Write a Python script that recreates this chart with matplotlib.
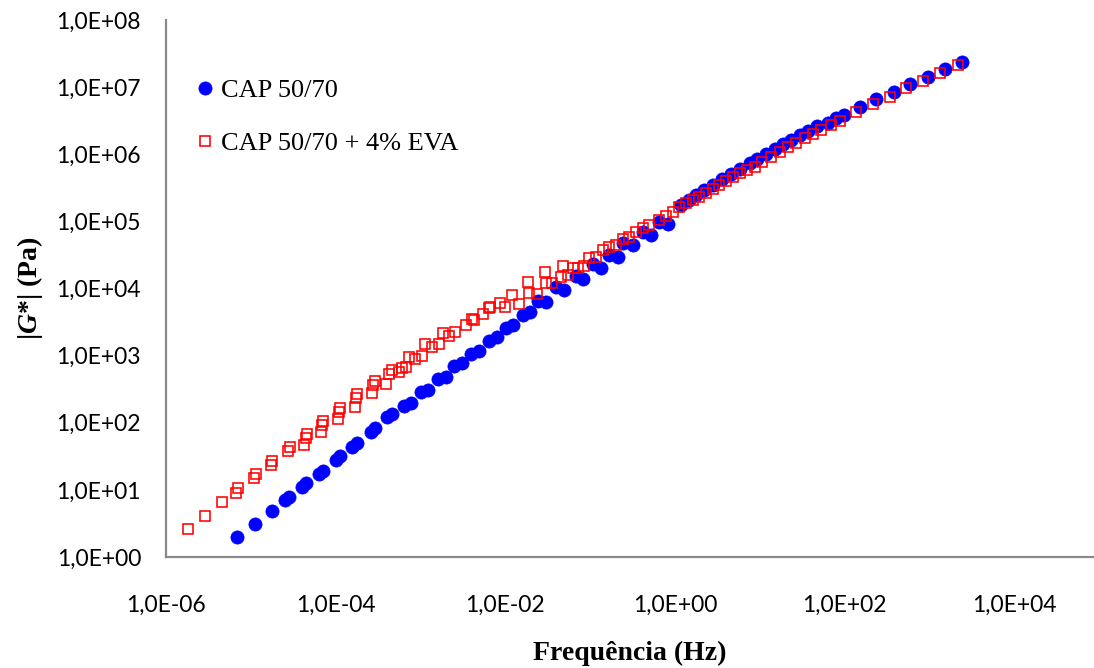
import numpy as np
import matplotlib
matplotlib.use("Agg")
import matplotlib.pyplot as plt
from matplotlib.ticker import FixedLocator, FuncFormatter, NullLocator
from matplotlib.lines import Line2D

# |G*| master curves, stored as log10(frequency [Hz]) and log10(|G*| [Pa])
cap_log_freq = [
    -5.159, -4.953, -4.755, -4.599, -4.549, -4.392, -4.352, -4.195, -4.148, -3.998,
    -3.950, -3.802, -3.743, -3.585, -3.534, -3.389, -3.330, -3.192, -3.109, -2.995,
    -2.909, -2.791, -2.702, -2.602, -2.507, -2.405, -2.307, -2.189, -2.094, -1.988,
    -1.906, -1.796, -1.705, -1.619, -1.516, -1.402, -1.304, -1.166, -1.088, -0.970,
    -0.871, -0.773, -0.675, -0.616, -0.498, -0.380, -0.281, -0.183, -0.085, 0.073,
    0.171, 0.250, 0.348, 0.446, 0.549, 0.663, 0.761, 0.879, 0.973, 1.076,
    1.174, 1.272, 1.363, 1.469, 1.563, 1.673, 1.803, 1.894, 1.988, 2.185,
    2.374, 2.578, 2.775, 2.983, 3.180, 3.389,
]
cap_log_g = [
    0.294, 0.499, 0.686, 0.850, 0.890, 1.048, 1.098, 1.237, 1.286, 1.446,
    1.505, 1.644, 1.703, 1.867, 1.918, 2.082, 2.131, 2.250, 2.295, 2.459,
    2.489, 2.653, 2.687, 2.839, 2.887, 3.025, 3.075, 3.224, 3.271, 3.413,
    3.450, 3.607, 3.644, 3.815, 3.805, 4.024, 3.979, 4.188, 4.143, 4.367,
    4.303, 4.501, 4.475, 4.675, 4.650, 4.844, 4.799, 4.993, 4.963, 5.246,
    5.320, 5.395, 5.469, 5.544, 5.626, 5.708, 5.782, 5.867, 5.931, 6.006,
    6.081, 6.155, 6.215, 6.289, 6.349, 6.423, 6.464, 6.535, 6.587, 6.711,
    6.821, 6.934, 7.045, 7.158, 7.268, 7.367,
]

eva_log_freq = [
    -5.740, -5.540, -5.339, -5.171, -5.147, -4.962, -4.942, -4.758, -4.746, -4.557,
    -4.540, -4.372, -4.352, -4.340, -4.175, -4.163, -4.148, -3.971, -3.959, -3.943,
    -3.770, -3.762, -3.743, -3.573, -3.558, -3.537, -3.401, -3.369, -3.337, -3.259,
    -3.212, -3.172, -3.133, -3.062, -2.983, -2.944, -2.865, -2.787, -2.740, -2.661,
    -2.590, -2.464, -2.393, -2.366, -2.268, -2.197, -2.181, -2.063, -2.000, -1.921,
    -1.835, -1.729, -1.725, -1.626, -1.528, -1.520, -1.449, -1.343, -1.316, -1.265,
    -1.206, -1.147, -1.068, -1.009, -0.930, -0.852, -0.773, -0.694, -0.616, -0.537,
    -0.458, -0.380, -0.301, -0.183, -0.104, -0.026, 0.053, 0.132, 0.210, 0.289,
    0.368, 0.446, 0.525, 0.604, 0.682, 0.761, 0.850, 0.938, 1.032, 1.135,
    1.233, 1.331, 1.422, 1.528, 1.622, 1.725, 1.835, 1.941, 2.138, 2.334,
    2.531, 2.728, 2.924, 3.129, 3.337,
]
eva_log_g = [
    0.413, 0.616, 0.815, 0.958, 1.024, 1.173, 1.233, 1.371, 1.435, 1.584,
    1.635, 1.669, 1.769, 1.833, 1.858, 1.967, 2.027, 2.052, 2.165, 2.225,
    2.240, 2.365, 2.429, 2.440, 2.563, 2.623, 2.578, 2.727, 2.787, 2.762,
    2.812, 2.827, 2.985, 2.946, 2.996, 3.170, 3.125, 3.174, 3.343, 3.294,
    3.358, 3.458, 3.543, 3.532, 3.622, 3.706, 3.721, 3.790, 3.730, 3.905,
    3.771, 4.094, 3.939, 3.920, 4.252, 4.088, 4.079, 4.177, 4.337, 4.203,
    4.303, 4.303, 4.337, 4.452, 4.475, 4.575, 4.624, 4.650, 4.735, 4.774,
    4.844, 4.899, 4.948, 5.022, 5.082, 5.142, 5.216, 5.271, 5.320, 5.370,
    5.425, 5.484, 5.544, 5.608, 5.663, 5.718, 5.768, 5.817, 5.887, 5.957,
    6.028, 6.106, 6.170, 6.240, 6.304, 6.364, 6.438, 6.502, 6.622, 6.751,
    6.860, 6.985, 7.094, 7.209, 7.332,
]

series_labels = ["CAP 50/70", "CAP 50/70 + 4% EVA"]
x_tick_exponents = [-6, -4, -2, 0, 2, 4]
y_tick_exponents = [0, 1, 2, 3, 4, 5, 6, 7, 8]

cap_f = 10.0 ** np.array(cap_log_freq)
cap_g = 10.0 ** np.array(cap_log_g)
eva_f = 10.0 ** np.array(eva_log_freq)
eva_g = 10.0 ** np.array(eva_log_g)

plt.rcParams["mathtext.fontset"] = "custom"
plt.rcParams["mathtext.it"] = "Liberation Serif:bold:italic"
plt.rcParams["mathtext.rm"] = "Liberation Serif:bold"

W, H = 1094, 668
fig = plt.figure(figsize=(W / 100, H / 100), dpi=100)
ax = fig.add_axes([166 / W, 1 - 557 / H, 928 / W, 537 / H])

blue_style = dict(linestyle="none", marker="o", markersize=9.5,
                  markerfacecolor="#0000FF", markeredgecolor="#0000FF",
                  markeredgewidth=0.5)
red_style = dict(linestyle="none", marker="s", markersize=6.8,
                 markerfacecolor="none", markeredgecolor="#FF0000",
                 markeredgewidth=1.15)

ax.plot(cap_f, cap_g, **blue_style)
ax.plot(eva_f, eva_g, **red_style)

ax.set_xscale("log")
ax.set_yscale("log")
ax.set_xlim(1e-6, 10 ** 4.94)
ax.set_ylim(1e0, 1e8)

def sci_comma(v, pos):
    e = int(round(np.log10(v)))
    return f"1,0E{e:+03d}"

ax.xaxis.set_major_locator(FixedLocator([10.0 ** e for e in x_tick_exponents]))
ax.yaxis.set_major_locator(FixedLocator([10.0 ** e for e in y_tick_exponents]))
ax.xaxis.set_minor_locator(NullLocator())
ax.yaxis.set_minor_locator(NullLocator())
ax.xaxis.set_major_formatter(FuncFormatter(sci_comma))
ax.yaxis.set_major_formatter(FuncFormatter(sci_comma))

ax.tick_params(axis="both", length=0, colors="black")
ax.tick_params(axis="x", pad=27)
ax.tick_params(axis="y", pad=18)
for lbl in ax.get_xticklabels() + ax.get_yticklabels():
    lbl.set_fontfamily("Lato")
    lbl.set_fontsize(16.5)

for side in ("top", "right"):
    ax.spines[side].set_visible(False)
for side in ("left", "bottom"):
    ax.spines[side].set_color("#898989")
    ax.spines[side].set_linewidth(1.6)

ax.set_xlabel("Frequência (Hz)", fontfamily="Liberation Serif", fontweight="bold",
              fontsize=20, labelpad=18)
ax.set_ylabel(r"|$\mathit{G}$*| (Pa)", fontfamily="Liberation Serif", fontweight="bold",
              fontsize=20, labelpad=8)

handles = [Line2D([], [], **blue_style), Line2D([], [], **red_style)]
ax.legend(handles, series_labels, loc="upper left", bbox_to_anchor=(0.022, 0.91),
          frameon=False, prop={"family": "Liberation Serif", "size": 19},
          handlelength=0.6, handletextpad=0.3, labelspacing=1.12, borderaxespad=0)

fig.savefig("out.png", dpi=100, facecolor="white")
